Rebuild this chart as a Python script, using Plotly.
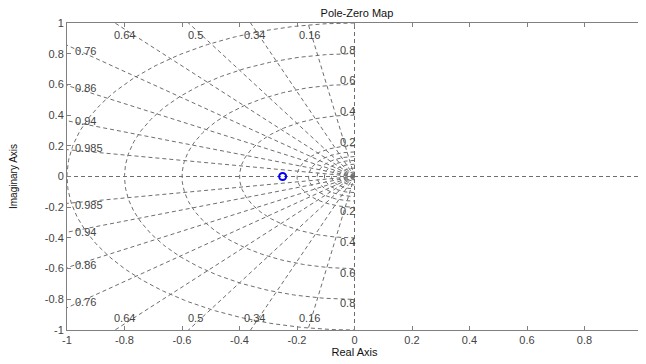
import numpy as np
import plotly.graph_objects as go

# ---- data ----
zeta_vals = [0.16, 0.34, 0.5, 0.64, 0.76, 0.86, 0.94, 0.985]
zeta_labels = ["0.16", "0.34", "0.5", "0.64", "0.76", "0.86", "0.94", "0.985"]
wn_vals = [0.2, 0.4, 0.6, 0.8, 1.0]
wn_labels = ["0.2", "0.4", "0.6", "0.8"]
wn_dense = [0.03, 0.055, 0.08, 0.105, 0.13, 0.16]
zero_re = [-0.25]
zero_im = [0.0]
tick_vals = [-1, -0.8, -0.6, -0.4, -0.2, 0, 0.2, 0.4, 0.6, 0.8, 1]
tick_text = ["-1", "-0.8", "-0.6", "-0.4", "-0.2", "0", "0.2", "0.4", "0.6", "0.8", "1"]

GRID = "#6e6e6e"
DASH = "4px,3px"
TXT = "#444444"
FONT = "Liberation Sans, Arial, sans-serif"

fig = go.Figure()

# damping ratio lines
for z in zeta_vals:
    ang = np.arccos(z)
    for s in (1, -1):
        fig.add_trace(go.Scatter(
            x=[0, -2 * np.cos(ang)], y=[0, s * 2 * np.sin(ang)],
            mode="lines", line=dict(color=GRID, width=1, dash=DASH),
            hoverinfo="skip", showlegend=False))

# natural frequency circles (left half plane)
th = np.linspace(np.pi / 2, 3 * np.pi / 2, 200)
for r in wn_vals + wn_dense:
    fig.add_trace(go.Scatter(
        x=r * np.cos(th), y=r * np.sin(th),
        mode="lines", line=dict(color=GRID, width=1, dash=DASH),
        hoverinfo="skip", showlegend=False))

# axes lines
fig.add_trace(go.Scatter(x=[-1, 1], y=[0, 0], mode="lines",
                         line=dict(color=GRID, width=1, dash=DASH),
                         hoverinfo="skip", showlegend=False))
fig.add_trace(go.Scatter(x=[0, 0], y=[-1, 1], mode="lines",
                         line=dict(color=GRID, width=1, dash=DASH),
                         hoverinfo="skip", showlegend=False))

# zero
fig.add_trace(go.Scatter(x=zero_re, y=zero_im, mode="markers",
                         marker=dict(symbol="circle-open", size=7,
                                     color="#0000ff", line=dict(width=2, color="#0000ff")),
                         showlegend=False))

# labels
ann = []
lab_font = dict(size=11, color=TXT, family=FONT)
for z, lab in zip(zeta_vals, zeta_labels):
    ang = np.arccos(z)
    t = np.tan(ang)
    if t > 1.1:
        xx = -0.96 / t
        for s in (1, -1):
            ann.append(dict(x=xx, y=s * 0.925, text=lab, showarrow=False,
                            xanchor="center", yanchor="middle", font=lab_font))
    else:
        yy = 0.93 * t + 0.025
        for s in (1, -1):
            ann.append(dict(x=-0.98, y=s * yy, text=lab, showarrow=False,
                            xanchor="left", yanchor="middle", font=lab_font))
for r, lab in zip(wn_vals, wn_labels):
    for s in (1, -1):
        ann.append(dict(x=0, y=s * r, text=lab, showarrow=False,
                        xanchor="right", yanchor="bottom" if s > 0 else "top",
                        xshift=2, yshift=-4 if s > 0 else 4, font=lab_font))

axis_common = dict(
    tickvals=tick_vals, ticktext=tick_text, range=[-1, 1],
    showgrid=False, zeroline=False, showline=True, mirror="ticks",
    linecolor="#808080", linewidth=1, ticks="inside", ticklen=4,
    tickcolor="#808080", tickfont=dict(size=11, color=TXT, family=FONT),
    ticklabeloverflow="allow")

fig.update_layout(
    width=638, height=356,
    margin=dict(l=59, r=1, t=15, b=34),
    plot_bgcolor="white", paper_bgcolor="white",
    title=dict(text="Pole-Zero Map", x=0.547, xanchor="center", y=0.997,
               yanchor="top", font=dict(size=11, color="#111111", family=FONT)),
    xaxis=dict(axis_common, title=dict(text="Real Axis", standoff=2,
                                       font=dict(size=11, color="#111111", family=FONT))),
    yaxis=dict(axis_common, title=dict(text="Imaginary Axis", standoff=27,
                                       font=dict(size=10, color="#111111", family=FONT))),
    annotations=ann,
)

fig.write_html("out.html")
